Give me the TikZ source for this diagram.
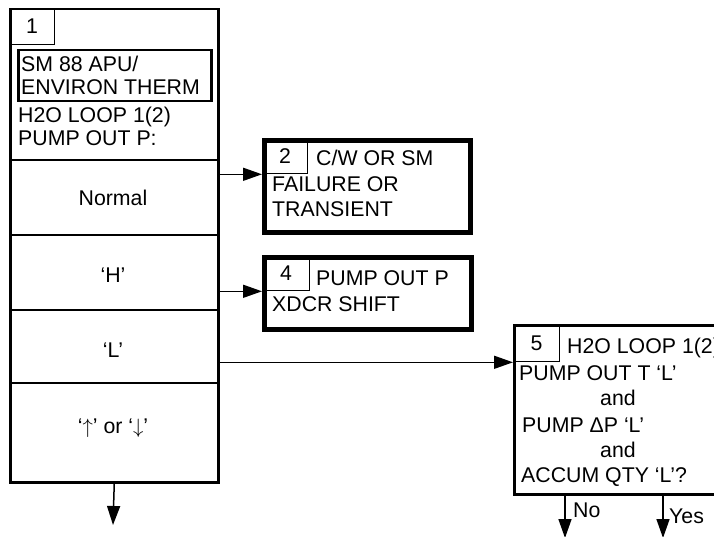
\documentclass[tikz,border=0pt]{standalone}
\usepackage{fontspec}
\setmainfont{Liberation Sans}
\usetikzlibrary{arrows.meta}
\begin{document}
\begin{tikzpicture}[x=1pt,y=-1pt,
  fnt/.style={font=\fontsize{21.3}{25}\selectfont},
  tl/.style={fnt, inner sep=0pt, anchor=base west},
  tc/.style={fnt, inner sep=0pt, anchor=base},
  numbox/.style={draw, fnt, line width=1.3pt, inner sep=0pt, anchor=north west},
  box/.style={draw, inner sep=0pt, anchor=north west},
  arr/.style={line width=1.5pt, -{Triangle[length=19pt,width=13pt]}},
  divider/.style={line width=2pt}]
\clip (0,0) rectangle (714,537);
\useasboundingbox (0,0) rectangle (714,537);

% main box
\node[box, line width=2.5pt, minimum width=208pt, minimum height=473pt] (main) at (9,8) {};
\node[numbox, minimum width=45pt, minimum height=36pt] (n1) at (9,8) {1};
\node[box, line width=2.5pt, minimum width=193pt, minimum height=51pt] (sm) at (17,49) {};
\node[tl] (s1) at (21,72) {SM 88 APU/};
\node[tl] (s2) at (21,95) {ENVIRON THERM};
\node[tl] (s3) at (18,123) {H2O LOOP 1(2)};
\node[tl] (s4) at (18,146) {PUMP OUT P:};
\draw[divider] (9,160) -- (217,160);
\draw[divider] (9,235) -- (217,235);
\draw[divider] (9,310) -- (217,310);
\draw[divider] (9,383) -- (217,383);
\node[tc] (r1) at (113,206) {Normal};
\node[tc] (r2) at (113,282) {‘H’};
\node[tc] (r3) at (113,357) {‘L’};
\node[tc] (r4) at (113,433) {‘$\uparrow$’ or ‘$\downarrow$’};

% box 2
\node[box, line width=5pt, minimum width=206pt, minimum height=92pt] (b2) at (262,138) {};
\node[numbox, minimum width=45pt, minimum height=35pt] (n2) at (262,138) {2};
\node[tl] (b2a) at (316,166) {C/W OR SM};
\node[tl] (b2b) at (272,192) {FAILURE OR};
\node[tl] (b2c) at (272,217) {TRANSIENT};

% box 4
\node[box, line width=5pt, minimum width=207pt, minimum height=72pt] (b4) at (262,255) {};
\node[numbox, minimum width=47pt, minimum height=35pt] (n4) at (262,255) {4};
\node[tl] (b4a) at (316,285) {PUMP OUT P};
\node[tl] (b4b) at (272,311) {XDCR SHIFT};

% box 5
\node[box, line width=2.5pt, minimum width=230pt, minimum height=169pt] (b5) at (513,324) {};
\node[numbox, minimum width=46pt, minimum height=37pt] (n5) at (513,324) {5};
\node[tl] (b5a) at (567,353) {H2O LOOP 1(2)};
\node[tl] (b5b) at (519,380) {PUMP OUT T ‘L’};
\node[tl] (b5c) at (600,405) {and};
\node[tl] (b5d) at (522,432) {PUMP ΔP ‘L’};
\node[tl] (b5e) at (600,457) {and};
\node[tl] (b5f) at (521,482) {ACCUM QTY ‘L’?};

% connectors
\draw[arr] (main.east |- n2.south) -- (b2.west |- n2.south);
\draw[arr] (main.east |- n4.south) -- (b4.west |- n4.south);
\draw[arr] (main.east |- n5.south) -- (b5.west |- n5.south);
\coordinate (e1) at (113,525);
\draw[arr] (main.south) -- (e1);
\coordinate (eno) at (565,538);
\coordinate (eyes) at (663,538);
\draw[arr] (b5.south -| eno) -- (eno);
\draw[arr] (b5.south -| eyes) -- (eyes);
\node[tl] (no) at (573,517) {No};
\node[tl] (yes) at (669,523) {Yes};
\end{tikzpicture}
\end{document}
